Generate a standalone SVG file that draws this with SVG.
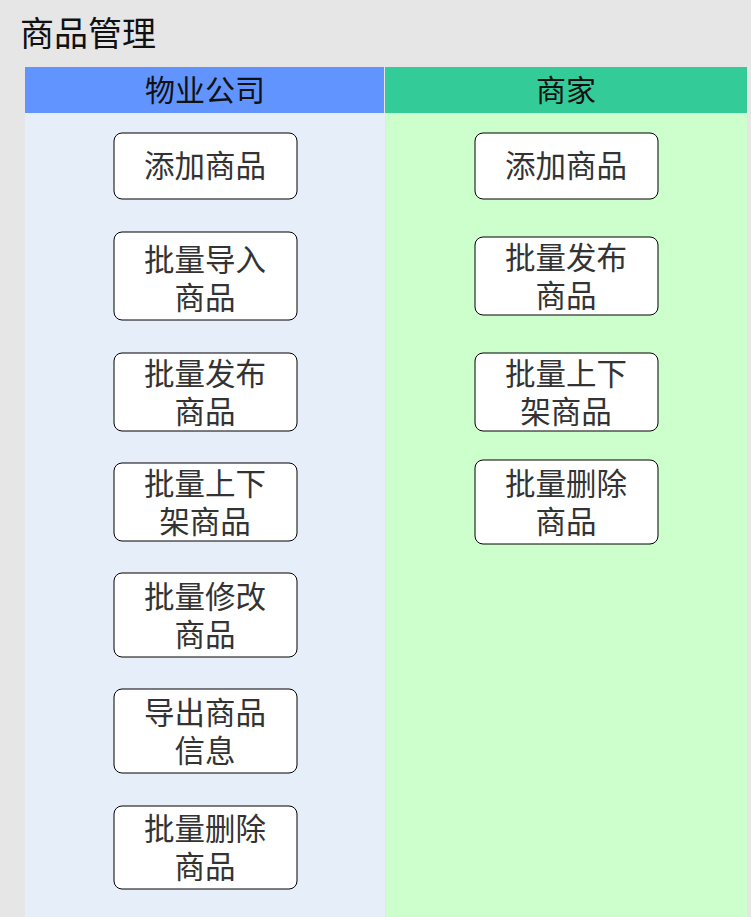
<svg xmlns="http://www.w3.org/2000/svg" width="751" height="917" viewBox="0 0 751 917">
<style>
text{font-family:"Liberation Sans","Noto Sans CJK SC",sans-serif;}
.box{fill:#ffffff;stroke:#000000;stroke-width:1;}
.t{font-size:30.5px;fill:#333333;text-anchor:middle;}
.h{font-size:30px;fill:#111111;text-anchor:middle;}
</style>
<rect x="0" y="0" width="751" height="917" fill="#e6e6e6"/>
<text x="20" y="46" font-size="34" fill="#111111">商品管理</text>
<g id="lane-wuye">
<rect x="25" y="113" width="360" height="804" fill="#e6eefa"/>
<rect x="25" y="67" width="359" height="46" fill="#6194ff"/>
<text class="h" x="205" y="101">物业公司</text>
</g>
<g id="lane-shangjia">
<rect x="386" y="113" width="361" height="804" fill="#ccffcc"/>
<rect x="385" y="67" width="362" height="46" fill="#33cc99"/>
<text class="h" x="566" y="101">商家</text>
</g>
<g id="connectors"></g>
<g id="l1"><rect class="box" x="114" y="133" width="183" height="66" rx="8"/><text class="t" x="205" y="177">添加商品</text></g>
<g id="l2"><rect class="box" x="114" y="232" width="183" height="88" rx="8"/><text class="t" x="205" y="271">批量导入</text><text class="t" x="205" y="309">商品</text></g>
<g id="l3"><rect class="box" x="114" y="353" width="183" height="78" rx="8"/><text class="t" x="205" y="385">批量发布</text><text class="t" x="205" y="423">商品</text></g>
<g id="l4"><rect class="box" x="114" y="463" width="183" height="78" rx="8"/><text class="t" x="205" y="495">批量上下</text><text class="t" x="205" y="533">架商品</text></g>
<g id="l5"><rect class="box" x="114" y="573" width="183" height="84" rx="8"/><text class="t" x="205" y="608">批量修改</text><text class="t" x="205" y="646">商品</text></g>
<g id="l6"><rect class="box" x="114" y="689" width="183" height="84" rx="8"/><text class="t" x="205" y="724">导出商品</text><text class="t" x="205" y="762">信息</text></g>
<g id="l7"><rect class="box" x="114" y="806" width="183" height="83" rx="8"/><text class="t" x="205" y="840">批量删除</text><text class="t" x="205" y="878">商品</text></g>
<g id="r1"><rect class="box" x="475" y="133" width="183" height="66" rx="8"/><text class="t" x="566" y="177">添加商品</text></g>
<g id="r2"><rect class="box" x="475" y="237" width="183" height="78" rx="8"/><text class="t" x="566" y="269">批量发布</text><text class="t" x="566" y="307">商品</text></g>
<g id="r3"><rect class="box" x="475" y="353" width="183" height="78" rx="8"/><text class="t" x="566" y="385">批量上下</text><text class="t" x="566" y="423">架商品</text></g>
<g id="r4"><rect class="box" x="475" y="460" width="183" height="84" rx="8"/><text class="t" x="566" y="495">批量删除</text><text class="t" x="566" y="533">商品</text></g>
</svg>
